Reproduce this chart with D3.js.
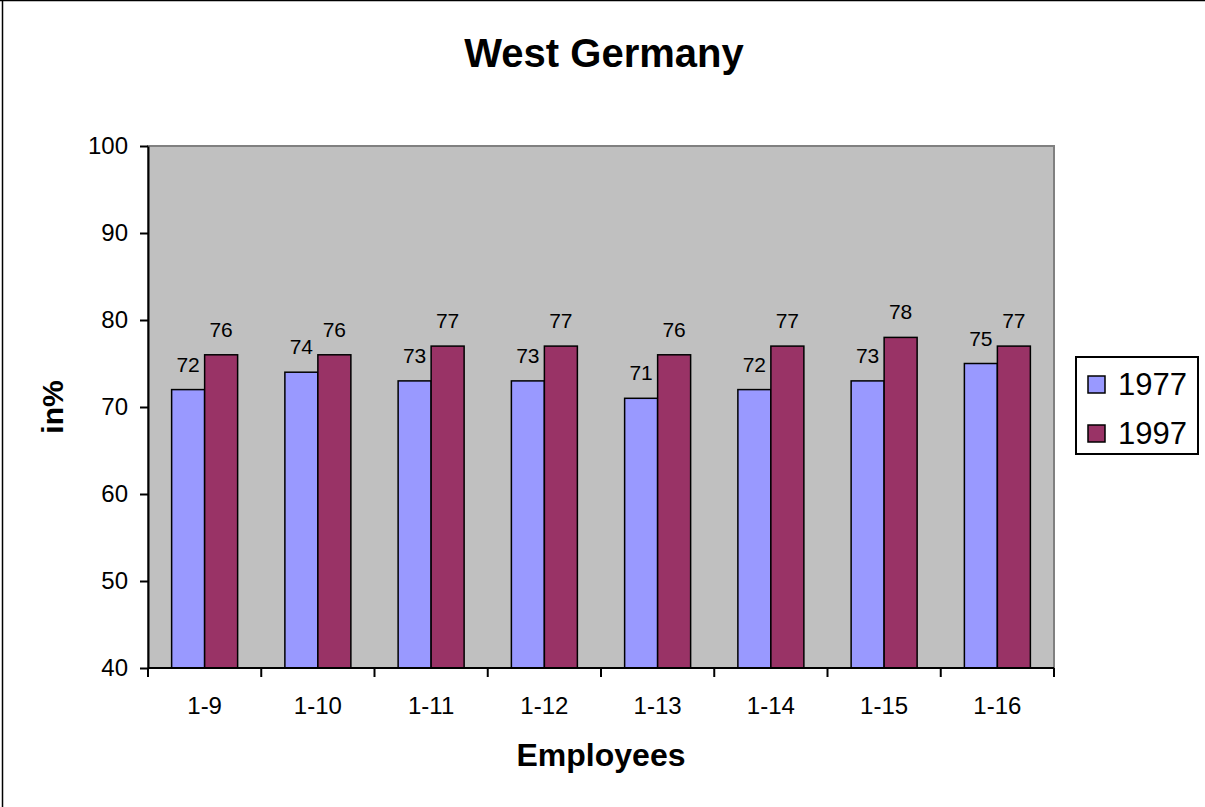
<!DOCTYPE html>
<html>
<head>
<meta charset="utf-8">
<script src="https://cdn.jsdelivr.net/npm/d3@7"></script>
<style>
  html, body { margin: 0; padding: 0; background: #fff; }
  svg { display: block; font-family: "Liberation Sans", Arial, sans-serif; }
</style>
</head>
<body>
<svg id="chart" width="1205" height="807"></svg>
<script>
const categories = ["1-9", "1-10", "1-11", "1-12", "1-13", "1-14", "1-15", "1-16"];
const seriesNames = ["1977", "1997"];
const values1977 = [72, 74, 73, 73, 71, 72, 73, 75];
const values1997 = [76, 76, 77, 77, 76, 77, 78, 77];
const yTicks = [40, 50, 60, 70, 80, 90, 100];
const colors = ["#9999FF", "#993366"];

const svg = d3.select("#chart");
const W = 1205, H = 807;
const plot = { left: 148, right: 1054, top: 146, bottom: 668 };

// page border (top & left)
svg.append("line").attr("x1", 0).attr("x2", W).attr("y1", 0.5).attr("y2", 0.5)
  .attr("stroke", "#000").attr("stroke-width", 1.5);
svg.append("line").attr("x1", 2.5).attr("x2", 2.5).attr("y1", 0).attr("y2", H)
  .attr("stroke", "#000").attr("stroke-width", 1.5);

const x0 = d3.scaleBand().domain(categories).range([plot.left, plot.right]).padding(0);
const x1 = d3.scaleBand().domain(seriesNames).range([0, x0.bandwidth()])
  .paddingInner(0).paddingOuter(0.716);
const y = d3.scaleLinear().domain([40, 100]).range([plot.bottom, plot.top]);

// plot background
svg.append("rect")
  .attr("x", plot.left).attr("y", plot.top)
  .attr("width", plot.right - plot.left).attr("height", plot.bottom - plot.top)
  .attr("fill", "#C0C0C0").attr("stroke", "#808080").attr("stroke-width", 2);

const data = categories.map((c, i) => ({ cat: c, vals: [values1977[i], values1997[i]] }));

const groups = svg.append("g").selectAll("g").data(data).join("g")
  .attr("transform", d => `translate(${x0(d.cat)},0)`);

groups.selectAll("rect").data(d => d.vals.map((v, j) => ({ s: seriesNames[j], v, j })))
  .join("rect")
  .attr("x", d => x1(d.s))
  .attr("y", d => y(d.v))
  .attr("width", x1.bandwidth())
  .attr("height", d => y(40) - y(d.v))
  .attr("fill", d => colors[d.j])
  .attr("stroke", "#000").attr("stroke-width", 1.5);

groups.selectAll("text").data(d => d.vals.map((v, j) => ({ s: seriesNames[j], v, j })))
  .join("text")
  .attr("x", d => x1(d.s) + x1.bandwidth() / 2)
  .attr("y", d => y(d.v) - 18)
  .attr("text-anchor", "middle")
  .attr("font-size", 21)
  .attr("fill", "#000")
  .text(d => d.v);

// Y axis
const yAxis = d3.axisLeft(y).tickValues(yTicks).tickSize(8).tickPadding(12).tickSizeOuter(0);
const gy = svg.append("g").attr("transform", `translate(${plot.left},0)`).call(yAxis);
gy.select(".domain").attr("stroke", "#000").attr("stroke-width", 2);
gy.selectAll(".tick line").attr("stroke", "#000").attr("stroke-width", 2);
gy.selectAll(".tick text").attr("font-size", 24).attr("font-family", "Liberation Sans, Arial, sans-serif").attr("fill", "#000");

// X axis with ticks at category boundaries
const boundaries = categories.map(c => x0(c)).concat([plot.right]);
const gx = svg.append("g").attr("transform", `translate(0,${plot.bottom})`);
gx.append("line").attr("x1", plot.left).attr("x2", plot.right).attr("y1", 0).attr("y2", 0)
  .attr("stroke", "#000").attr("stroke-width", 2);
gx.selectAll("line.tk").data(boundaries).join("line").attr("class", "tk")
  .attr("x1", d => d).attr("x2", d => d).attr("y1", 0).attr("y2", 9)
  .attr("stroke", "#000").attr("stroke-width", 2);
gx.selectAll("text").data(categories).join("text")
  .attr("x", d => x0(d) + x0.bandwidth() / 2)
  .attr("y", 46)
  .attr("text-anchor", "middle")
  .attr("font-size", 24)
  .text(d => d);

// Titles
svg.append("text").attr("x", 604).attr("y", 67).attr("text-anchor", "middle")
  .attr("font-size", 40).attr("font-weight", "bold").text("West Germany");
svg.append("text").attr("x", 601).attr("y", 766).attr("text-anchor", "middle")
  .attr("font-size", 32).attr("font-weight", "bold").text("Employees");
svg.append("text").attr("transform", "translate(63,407) rotate(-90)").attr("text-anchor", "middle")
  .attr("font-size", 30).attr("font-weight", "bold").text("in%");

// Legend
const lg = svg.append("g");
lg.append("rect").attr("x", 1076).attr("y", 357).attr("width", 122).attr("height", 97)
  .attr("fill", "#fff").attr("stroke", "#000").attr("stroke-width", 2);
const items = lg.selectAll("g.item").data(seriesNames).join("g").attr("class", "item")
  .attr("transform", (d, i) => `translate(1088,${376 + i * 49})`);
items.append("rect").attr("width", 17).attr("height", 17)
  .attr("fill", (d, i) => colors[i]).attr("stroke", "#000").attr("stroke-width", 1.5);
items.append("text").attr("x", 30).attr("y", 19).attr("font-size", 31).text(d => d);
</script>
</body>
</html>
